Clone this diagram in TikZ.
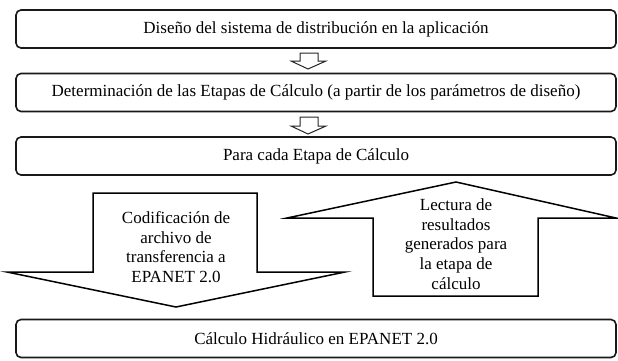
\documentclass[tikz,border=0pt]{standalone}
\usepackage{fontspec}
\setmainfont{Liberation Serif}
\begin{document}
\begin{tikzpicture}[x=1pt,y=-1pt,
  stagebox/.style={draw=black!90, line width=1.6pt, rounded corners=5pt, fill=white,
    minimum width=600pt, minimum height=38pt, inner sep=0pt,
    font=\fontsize{17}{19.5}\selectfont},
  smallarrow/.style={draw=black!85, line width=1pt, fill=white, line join=miter},
  bigarrow/.style={draw=black, line width=1.5pt, fill=white, line join=miter},
  arrowtext/.style={align=center, inner sep=0pt, font=\fontsize{17}{19.6}\selectfont}]
\useasboundingbox (0,0) rectangle (618,360);
\fill[white] (0,0) rectangle (618,360);
% stage boxes
\node[stagebox] (b1) at (316,29) {Diseño del sistema de distribución en la aplicación};
\node[stagebox] (b2) at (316,92.5) {Determinación de las Etapas de Cálculo (a partir de los parámetros de diseño)};
\node[stagebox] (b3) at (316,156) {Para cada Etapa de Cálculo};
\node[stagebox] (b4) at (316,338.5) {Cálculo Hidráulico en EPANET 2.0};
% small hollow arrows
\draw[smallarrow] (300,53) -- (318,53) -- (318,61) -- (326,61) -- (308,69) -- (291,61) -- (300,61) -- cycle;
\draw[smallarrow] (300,117) -- (318,117) -- (318,126) -- (326,126) -- (308,134) -- (291,126) -- (300,126) -- cycle;
% big down arrow
\draw[bigarrow] (93,193) -- (257,193) -- (257,272) -- (345,272) -- (176,307) -- (7,272) -- (93,272) -- cycle;
\node[arrowtext] (t1) at (176,247) {Codificación de\\archivo de\\transferencia a\\EPANET 2.0};
% big up arrow
\draw[bigarrow] (373,296) -- (538,296) -- (538,218) -- (616,218) -- (456,182) -- (287,218) -- (373,218) -- cycle;
\node[arrowtext] (t2) at (456,244) {Lectura de\\resultados\\generados para\\la etapa de\\cálculo};
\end{tikzpicture}
\end{document}
